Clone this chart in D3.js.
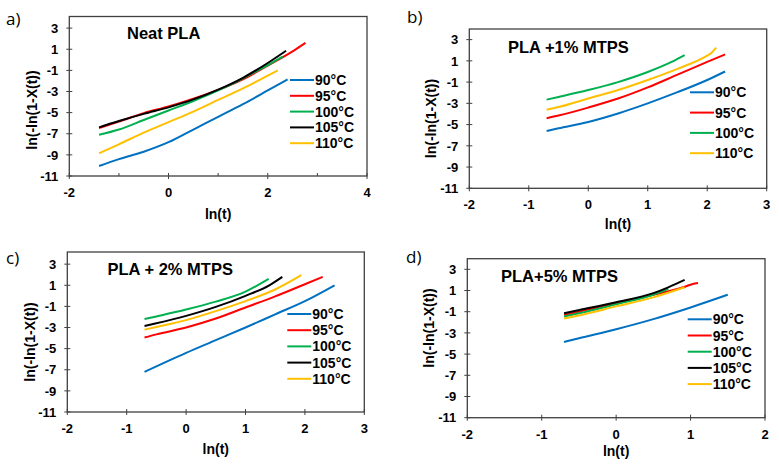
<!DOCTYPE html>
<html lang="en">
<head>
  <meta charset="UTF-8">
  <title>Avrami plots</title>
  <script src="https://d3js.org/d3.v7.min.js"></script>
  <style>
    body { margin: 0; background: white; }
    svg { display: block; font-family: "Liberation Sans", Arial, sans-serif; }
    .tick-label { font-size: 13px; font-weight: bold; }
    .axis-title { font-size: 14px; font-weight: bold; }
    .panel-title { font-size: 16.5px; font-weight: bold; }
    .legend-text { font-size: 14px; font-weight: bold; }
    .panel-tag { font-family: "Open Sans", "Noto Sans", sans-serif; font-size: 17px; }
  </style>
</head>
<body>
  <script>
    // series labels
    const temps5 = ["90°C", "95°C", "100°C", "105°C", "110°C"];
    const temps4 = ["90°C", "95°C", "100°C", "110°C"];
    const colorOf = {
      "90°C": "#0070C0", "95°C": "#FF0000", "100°C": "#00B050",
      "105°C": "#000000", "110°C": "#FFC000"
    };

    // a) Neat PLA  -- [ln(t), ln(-ln(1-X(t)))]
    const neat90 = [[-1.4,-10.05],[-1,-9.4],[-0.5,-8.7],[0,-7.8],[0.5,-6.6],[1,-5.4],[1.5,-4.2],[2,-2.9],[2.4,-1.85]];
    const neat95 = [[-1.4,-6.45],[-1,-5.85],[-0.5,-5.05],[0,-4.42],[0.5,-3.68],[1,-2.85],[1.5,-1.85],[2,-0.55],[2.5,0.8],[2.76,1.6]];
    const neat100 = [[-1.4,-7.1],[-1,-6.6],[-0.5,-5.7],[0,-4.8],[0.5,-3.9],[1,-2.9],[1.5,-1.75],[2,-0.5],[2.3,0.3]];
    const neat105 = [[-1.4,-6.4],[-1,-5.8],[-0.5,-5.12],[0,-4.5],[0.5,-3.75],[1,-2.82],[1.5,-1.7],[2,-0.3],[2.37,0.86]];
    const neat110 = [[-1.4,-8.85],[-1,-8.0],[-0.5,-6.9],[0,-5.9],[0.5,-4.9],[1,-3.8],[1.5,-2.7],[2,-1.5],[2.2,-1.0]];

    // b) PLA +1% MTPS
    const p1_90 = [[-0.7,-5.6],[-0.5,-5.35],[0,-4.75],[0.5,-3.95],[1,-3.0],[1.5,-1.95],[2,-0.8],[2.3,0.0]];
    const p1_95 = [[-0.7,-4.4],[-0.5,-4.15],[0,-3.4],[0.5,-2.55],[1,-1.5],[1.5,-0.3],[2,0.9],[2.3,1.6]];
    const p1_100 = [[-0.7,-2.65],[-0.5,-2.4],[0,-1.75],[0.5,-1.0],[1,-0.05],[1.4,0.9],[1.62,1.55]];
    const p1_110 = [[-0.7,-3.6],[-0.5,-3.35],[0,-2.55],[0.5,-1.75],[1,-0.8],[1.5,0.25],[2,1.5],[2.07,1.75],[2.15,2.25]];

    // c) PLA + 2% MTPS
    const p2_90 = [[-0.7,-7.2],[0,-5.4],[0.5,-4.2],[1,-3.0],[1.5,-1.75],[2,-0.5],[2.5,1.0]];
    const p2_95 = [[-0.7,-3.95],[-0.5,-3.65],[0,-3.0],[0.5,-2.15],[1,-1.1],[1.5,-0.05],[2,1.1],[2.3,1.8]];
    const p2_100 = [[-0.7,-2.2],[-0.5,-1.95],[0,-1.3],[0.5,-0.55],[1,0.4],[1.39,1.6]];
    const p2_105 = [[-0.7,-2.85],[-0.5,-2.6],[0,-1.9],[0.5,-1.05],[1,0.0],[1.4,1.0],[1.62,1.8]];
    const p2_110 = [[-0.7,-3.2],[-0.5,-2.95],[0,-2.3],[0.5,-1.45],[1,-0.5],[1.5,0.6],[1.94,1.95]];

    // d) PLA+5% MTPS
    const p5_90 = [[-0.7,-3.85],[-0.5,-3.5],[0,-2.65],[0.5,-1.7],[1,-0.6],[1.5,0.6]];
    const p5_95 = [[-0.7,-1.3],[-0.5,-1.0],[0,-0.2],[0.5,0.6],[0.9,1.3],[1.0,1.55],[1.1,1.7]];
    const p5_100 = [[-0.7,-1.45],[-0.5,-1.15],[0,-0.3],[0.5,0.6],[0.7,1.15]];
    const p5_105 = [[-0.7,-1.15],[-0.5,-0.85],[0,-0.1],[0.5,0.75],[0.7,1.3],[0.92,2.0]];
    const p5_110 = [[-0.7,-1.65],[-0.5,-1.35],[0,-0.5],[0.5,0.35],[0.92,1.3]];

    const yTicks = [-11, -9, -7, -5, -3, -1, 1, 3];

    const panels = [
      { tag: "a)", title: "Neat PLA", labels: temps5,
        series: [neat90, neat95, neat100, neat105, neat110],
        xDomain: [-2, 4], xTicks: [-2, 0, 2, 4], xMinor: [-1, 1, 3], yMax: 4.1,
        box: [69.3, 16.5, 367, 176], tagPos: [6, 25], titlePos: [127, 38.5],
        legend: [290, 80, 15.8], xTitleY: 219, yTitle: [37, 110] },
      { tag: "b)", title: "PLA +1% MTPS", labels: temps4,
        series: [p1_90, p1_95, p1_100, p1_110],
        xDomain: [-2, 3], xTicks: [-2, -1, 0, 1, 2, 3], xMinor: [], yMax: 4,
        box: [469.3, 29, 766.7, 188.3], tagPos: [407, 23], titlePos: [508, 52.5],
        legend: [690, 92.3, 20.3], xTitleY: 229, yTitle: [435.5, 118.5] },
      { tag: "c)", title: "PLA + 2% MTPS", labels: temps5,
        series: [p2_90, p2_95, p2_100, p2_105, p2_110],
        xDomain: [-2, 3], xTicks: [-2, -1, 0, 1, 2, 3], xMinor: [], yMax: 4.15,
        box: [67.3, 252, 364.3, 412], tagPos: [6, 264], titlePos: [107.5, 275],
        legend: [287.3, 314, 16.2], xTitleY: 454, yTitle: [35, 342] },
      { tag: "d)", title: "PLA+5% MTPS", labels: temps5,
        series: [p5_90, p5_95, p5_100, p5_105, p5_110],
        xDomain: [-2, 2], xTicks: [-2, -1, 0, 1, 2], xMinor: [], yMax: 4,
        box: [467.3, 258.7, 765, 417.7], tagPos: [406, 263], titlePos: [501, 282],
        legend: [687.7, 319.3, 16.2], xTitleY: 456, yTitle: [434, 328] }
    ];

    const svg = d3.select("body").append("svg")
      .attr("width", 779)
      .attr("height", 472);

    const line = d3.line().curve(d3.curveMonotoneX);

    panels.forEach(p => {
      const [x0, y0, x1, y1] = p.box;
      const x = d3.scaleLinear().domain(p.xDomain).range([x0, x1]);
      const y = d3.scaleLinear().domain([-11, p.yMax]).range([y1, y0]);
      const g = svg.append("g");

      g.append("text").attr("class", "panel-tag")
        .attr("x", p.tagPos[0]).attr("y", p.tagPos[1]).text(p.tag);

      // plot frame
      g.append("rect")
        .attr("x", x0).attr("y", y0)
        .attr("width", x1 - x0).attr("height", y1 - y0)
        .attr("fill", "none").attr("stroke", "#404040").attr("stroke-width", 1.3);

      // y ticks
      g.selectAll(".yt").data(yTicks).enter().append("line")
        .attr("x1", x0 - 3).attr("x2", x0 + 3)
        .attr("y1", d => y(d)).attr("y2", d => y(d))
        .attr("stroke", "#404040").attr("stroke-width", 1);
      g.selectAll(".yl").data(yTicks).enter().append("text")
        .attr("class", "tick-label")
        .attr("x", x0 - 11).attr("y", d => y(d))
        .attr("dy", "0.36em").attr("text-anchor", "end")
        .text(d => d);

      // x ticks
      g.selectAll(".xt").data(p.xTicks).enter().append("line")
        .attr("x1", d => x(d)).attr("x2", d => x(d))
        .attr("y1", y1 - 3).attr("y2", y1 + 3)
        .attr("stroke", "#404040").attr("stroke-width", 1);
      g.selectAll(".xm").data(p.xMinor).enter().append("line")
        .attr("x1", d => x(d)).attr("x2", d => x(d))
        .attr("y1", y1 - 3).attr("y2", y1)
        .attr("stroke", "#404040").attr("stroke-width", 1);
      g.selectAll(".xl").data(p.xTicks).enter().append("text")
        .attr("class", "tick-label")
        .attr("x", d => x(d)).attr("y", y1 + 21)
        .attr("text-anchor", "middle")
        .text(d => d);

      // axis titles
      g.append("text").attr("class", "axis-title")
        .attr("x", (x0 + x1) / 2).attr("y", p.xTitleY)
        .attr("text-anchor", "middle").text("ln(t)");
      g.append("text").attr("class", "axis-title")
        .attr("transform", `translate(${p.yTitle[0]},${p.yTitle[1]}) rotate(-90)`)
        .attr("text-anchor", "middle").text("ln(-ln(1-X(t))");

      // curves
      p.series.forEach((s, i) => {
        g.append("path")
          .attr("d", line(s.map(d => [x(d[0]), y(d[1])])))
          .attr("fill", "none")
          .attr("stroke", colorOf[p.labels[i]])
          .attr("stroke-width", 2);
      });

      g.append("text").attr("class", "panel-title")
        .attr("x", p.titlePos[0]).attr("y", p.titlePos[1]).text(p.title);

      // legend
      const [lx, ly, step] = p.legend;
      p.labels.forEach((lab, i) => {
        const yy = ly + i * step;
        g.append("line")
          .attr("x1", lx).attr("x2", lx + 24)
          .attr("y1", yy).attr("y2", yy)
          .attr("stroke", colorOf[lab]).attr("stroke-width", 2);
        g.append("text").attr("class", "legend-text")
          .attr("x", lx + 25).attr("y", yy).attr("dy", "0.36em")
          .text(lab);
      });
    });
  </script>
</body>
</html>
